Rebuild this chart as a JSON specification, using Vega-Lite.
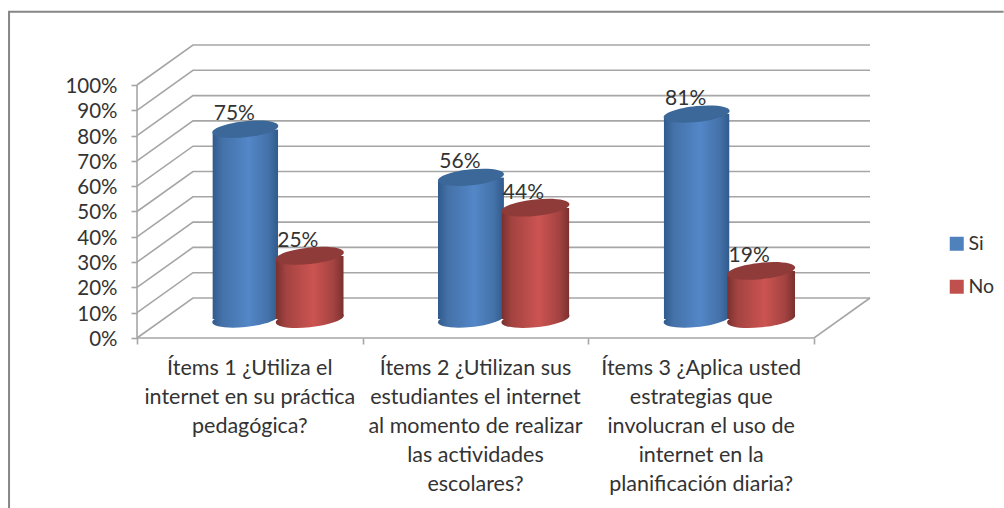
{
"$schema":"https://vega.github.io/schema/vega-lite/v6.json",
"width":733,"height":294,"autosize":{"type":"none"},
"padding":{"left":137,"top":44,"right":134,"bottom":170},
"background":"#ffffff",
"config":{"view":{"stroke":null},"font":"Lato"},
"datasets":{
"cil":[
{"item":"Ítems 1 ¿Utiliza el\ninternet en su práctica\npedagógica?","serie":"Si","valor":75},
{"item":"Ítems 1 ¿Utiliza el\ninternet en su práctica\npedagógica?","serie":"No","valor":25},
{"item":"Ítems 2 ¿Utilizan sus\nestudiantes el internet\nal momento de realizar\nlas actividades\nescolares?","serie":"Si","valor":56},
{"item":"Ítems 2 ¿Utilizan sus\nestudiantes el internet\nal momento de realizar\nlas actividades\nescolares?","serie":"No","valor":44},
{"item":"Ítems 3 ¿Aplica usted\nestrategias que\ninvolucran el uso de\ninternet en la\nplanificación diaria?","serie":"Si","valor":81},
{"item":"Ítems 3 ¿Aplica usted\nestrategias que\ninvolucran el uso de\ninternet en la\nplanificación diaria?","serie":"No","valor":19}],
"lineas":[
{"g":"0","o":1,"x":0,"y":0},{"g":"0","o":2,"x":0.248,"y":15.8},{"g":"0","o":3,"x":3.248,"y":15.8},
{"g":"10","o":1,"x":0,"y":10},{"g":"10","o":2,"x":0.248,"y":25.8},{"g":"10","o":3,"x":3.248,"y":25.8},
{"g":"20","o":1,"x":0,"y":20},{"g":"20","o":2,"x":0.248,"y":35.8},{"g":"20","o":3,"x":3.248,"y":35.8},
{"g":"30","o":1,"x":0,"y":30},{"g":"30","o":2,"x":0.248,"y":45.8},{"g":"30","o":3,"x":3.248,"y":45.8},
{"g":"40","o":1,"x":0,"y":40},{"g":"40","o":2,"x":0.248,"y":55.8},{"g":"40","o":3,"x":3.248,"y":55.8},
{"g":"50","o":1,"x":0,"y":50},{"g":"50","o":2,"x":0.248,"y":65.8},{"g":"50","o":3,"x":3.248,"y":65.8},
{"g":"60","o":1,"x":0,"y":60},{"g":"60","o":2,"x":0.248,"y":75.8},{"g":"60","o":3,"x":3.248,"y":75.8},
{"g":"70","o":1,"x":0,"y":70},{"g":"70","o":2,"x":0.248,"y":85.8},{"g":"70","o":3,"x":3.248,"y":85.8},
{"g":"80","o":1,"x":0,"y":80},{"g":"80","o":2,"x":0.248,"y":95.8},{"g":"80","o":3,"x":3.248,"y":95.8},
{"g":"90","o":1,"x":0,"y":90},{"g":"90","o":2,"x":0.248,"y":105.8},{"g":"90","o":3,"x":3.248,"y":105.8},
{"g":"100","o":1,"x":0,"y":100},{"g":"100","o":2,"x":0.248,"y":115.8},{"g":"100","o":3,"x":3.248,"y":115.8},
{"g":"piso","o":1,"x":0,"y":0},{"g":"piso","o":2,"x":3,"y":0},{"g":"piso","o":3,"x":3.248,"y":15.8},
{"g":"eje","o":1,"x":0,"y":0},{"g":"eje","o":2,"x":0,"y":100}],
"marco":[{"o":1,"x":-0.567,"y":-67.2},{"o":2,"x":-0.567,"y":128.9},{"o":3,"x":3.84,"y":128.9}]
},
"data":{"name":"cil"},
"resolve":{"scale":{"x":"independent","y":"independent","xOffset":"independent","color":"independent"}},
"layer":[
{"data":{"name":"marco"},"mark":{"type":"line","stroke":"#868686","strokeWidth":2},
 "encoding":{"x":{"field":"x","type":"quantitative","scale":{"domain":[0,3.248]},"axis":null},
 "y":{"field":"y","type":"quantitative","scale":{"domain":[0,116.2]},"axis":null},"order":{"field":"o"}}},
{"data":{"name":"lineas"},"mark":{"type":"line","stroke":"#a6a6a6","strokeWidth":1.6},
 "encoding":{"x":{"field":"x","type":"quantitative","scale":{"domain":[0,3.248]},
   "axis":{"values":[0,1,2,3],"labels":false,"domain":false,"grid":false,"title":null,"tickSize":6,"tickColor":"#a6a6a6","tickWidth":1.6}},
 "y":{"field":"y","type":"quantitative","scale":{"domain":[0,116.2]},
   "axis":{"values":[0,10,20,30,40,50,60,70,80,90,100],"labelExpr":"datum.value+'%'","domain":false,"grid":false,"title":null,"tickSize":6,"tickColor":"#a6a6a6","tickWidth":1.6,"labelFontSize":20.5,"labelColor":"#333333","labelPadding":14,"labelFont":"Lato","labelOffset":1.5}},
 "detail":{"field":"g"},"order":{"field":"o"}}},
{"transform":[{"filter":"datum.serie=='Si'"},{"calculate":"datum.valor+'%'","as":"etiqueta"}],"layer":[
 {"mark":{"type":"point","filled":true,"opacity":1,"size":4356,"shape":"M-1,0.1 A1 0.24 -6 1 1 1,-0.1 A1 0.24 -6 1 1 -1,0.1 Z","fill":{"gradient":"linear","x1":0,"x2":1,"y1":0,"y2":0,"stops":[{"offset":0,"color":"#2f5a8c"},{"offset":0.15,"color":"#4471a8"},{"offset":0.55,"color":"#5387c8"},{"offset":0.85,"color":"#4471a8"},{"offset":1,"color":"#2f5a8c"}]}},
  "encoding":{"x":{"field":"item","type":"nominal","sort":null,"scale":{"type":"band","range":[28,705],"paddingInner":0,"paddingOuter":0},"axis":null},
   "xOffset":{"field":"serie","type":"nominal","scale":{"type":"point","domain":["Si"],"range":[80.3,80.3]}},
   "y":{"datum":0,"type":"quantitative","scale":{"domain":[0,100],"range":[275,22]},"axis":null}}},
 {"mark":{"type":"bar","size":66,"cornerRadiusTopLeft":5,"cornerRadiusBottomRight":5,"fill":{"gradient":"linear","x1":0,"x2":1,"y1":0,"y2":0,"stops":[{"offset":0,"color":"#2f5a8c"},{"offset":0.15,"color":"#4471a8"},{"offset":0.55,"color":"#5387c8"},{"offset":0.85,"color":"#4471a8"},{"offset":1,"color":"#2f5a8c"}]}},
  "encoding":{"x":{"field":"item","type":"nominal","sort":null,"scale":{"type":"band","range":[28,705],"paddingInner":0,"paddingOuter":0},"axis":null},
   "xOffset":{"field":"serie","type":"nominal","scale":{"type":"point","domain":["Si"],"range":[80.3,80.3]}},
   "y":{"field":"valor","type":"quantitative","scale":{"domain":[0,100],"range":[275,22]},"axis":null}}},
 {"mark":{"type":"point","filled":true,"opacity":1,"size":4356,"shape":"M-1,0.1 A1 0.24 -6 1 1 1,-0.1 A1 0.24 -6 1 1 -1,0.1 Z","fill":"#3b6898"},
  "encoding":{"x":{"field":"item","type":"nominal","sort":null,"scale":{"type":"band","range":[28,705],"paddingInner":0,"paddingOuter":0},"axis":null},
   "xOffset":{"field":"serie","type":"nominal","scale":{"type":"point","domain":["Si"],"range":[80.3,80.3]}},
   "y":{"field":"valor","type":"quantitative","scale":{"domain":[0,100],"range":[275,22]},"axis":null}}},
 {"mark":{"type":"text","fontSize":21,"color":"#333333","dx":-11,"dy":-15,"font":"Lato"},
  "encoding":{"x":{"field":"item","type":"nominal","sort":null,"scale":{"type":"band","range":[28,705],"paddingInner":0,"paddingOuter":0},"axis":null},
   "xOffset":{"field":"serie","type":"nominal","scale":{"type":"point","domain":["Si"],"range":[80.3,80.3]}},
   "y":{"field":"valor","type":"quantitative","scale":{"domain":[0,100],"range":[275,22]},"axis":null},
   "text":{"field":"etiqueta","type":"nominal"}}}
]},
{"transform":[{"filter":"datum.serie=='No'"},{"calculate":"datum.valor+'%'","as":"etiqueta"}],"layer":[
 {"mark":{"type":"point","filled":true,"opacity":1,"size":4624,"shape":"M-1,0.1 A1 0.24 -6 1 1 1,-0.1 A1 0.24 -6 1 1 -1,0.1 Z","fill":{"gradient":"linear","x1":0,"x2":1,"y1":0,"y2":0,"stops":[{"offset":0,"color":"#79302e"},{"offset":0.15,"color":"#a34341"},{"offset":0.55,"color":"#cc5451"},{"offset":0.85,"color":"#a34341"},{"offset":1,"color":"#79302e"}]}},
  "encoding":{"x":{"field":"item","type":"nominal","sort":null,"scale":{"type":"band","range":[28,705],"paddingInner":0,"paddingOuter":0},"axis":null},
   "xOffset":{"field":"serie","type":"nominal","scale":{"type":"point","domain":["No"],"range":[144.8,144.8]}},
   "y":{"datum":0,"type":"quantitative","scale":{"domain":[0,100],"range":[275,22]},"axis":null}}},
 {"mark":{"type":"bar","size":68,"cornerRadiusTopLeft":5,"cornerRadiusBottomRight":5,"fill":{"gradient":"linear","x1":0,"x2":1,"y1":0,"y2":0,"stops":[{"offset":0,"color":"#79302e"},{"offset":0.15,"color":"#a34341"},{"offset":0.55,"color":"#cc5451"},{"offset":0.85,"color":"#a34341"},{"offset":1,"color":"#79302e"}]}},
  "encoding":{"x":{"field":"item","type":"nominal","sort":null,"scale":{"type":"band","range":[28,705],"paddingInner":0,"paddingOuter":0},"axis":null},
   "xOffset":{"field":"serie","type":"nominal","scale":{"type":"point","domain":["No"],"range":[144.8,144.8]}},
   "y":{"field":"valor","type":"quantitative","scale":{"domain":[0,100],"range":[275,22]},"axis":null}}},
 {"mark":{"type":"point","filled":true,"opacity":1,"size":4624,"shape":"M-1,0.1 A1 0.24 -6 1 1 1,-0.1 A1 0.24 -6 1 1 -1,0.1 Z","fill":"#8f3b39"},
  "encoding":{"x":{"field":"item","type":"nominal","sort":null,"scale":{"type":"band","range":[28,705],"paddingInner":0,"paddingOuter":0},"axis":null},
   "xOffset":{"field":"serie","type":"nominal","scale":{"type":"point","domain":["No"],"range":[144.8,144.8]}},
   "y":{"field":"valor","type":"quantitative","scale":{"domain":[0,100],"range":[275,22]},"axis":null}}},
 {"mark":{"type":"text","fontSize":21,"color":"#333333","dx":-12,"dy":-15,"font":"Lato"},
  "encoding":{"x":{"field":"item","type":"nominal","sort":null,"scale":{"type":"band","range":[28,705],"paddingInner":0,"paddingOuter":0},"axis":null},
   "xOffset":{"field":"serie","type":"nominal","scale":{"type":"point","domain":["No"],"range":[144.8,144.8]}},
   "y":{"field":"valor","type":"quantitative","scale":{"domain":[0,100],"range":[275,22]},"axis":null},
   "text":{"field":"etiqueta","type":"nominal"}}}
]},
{"transform":[{"filter":"datum.serie=='Si'"}],
 "mark":{"type":"text","fontSize":21.5,"color":"#333333","baseline":"top","align":"center","lineBreak":"\n","lineHeight":29,"font":"Lato"},
 "encoding":{"x":{"field":"item","type":"nominal","sort":null,"scale":{"type":"band","range":[0,677],"paddingInner":0,"paddingOuter":0},"axis":null},
  "y":{"datum":-8,"type":"quantitative","scale":{"domain":[0,116.2]},"axis":null},
  "text":{"field":"item"}}},
{"mark":{"type":"square","opacity":0,"size":1},
 "encoding":{"x":{"field":"item","type":"nominal","sort":null,"axis":null},
  "color":{"field":"serie","type":"nominal","scale":{"domain":["Si","No"],"range":["#4f81bd","#c0504d"]},
   "legend":{"orient":"none","legendX":810,"legendY":190,"title":null,"symbolType":"square","symbolSize":196,"symbolOpacity":1,"labelFontSize":19.5,"labelColor":"#333333","labelFont":"Lato","rowPadding":22,"labelOffset":2}}}}
]
}
